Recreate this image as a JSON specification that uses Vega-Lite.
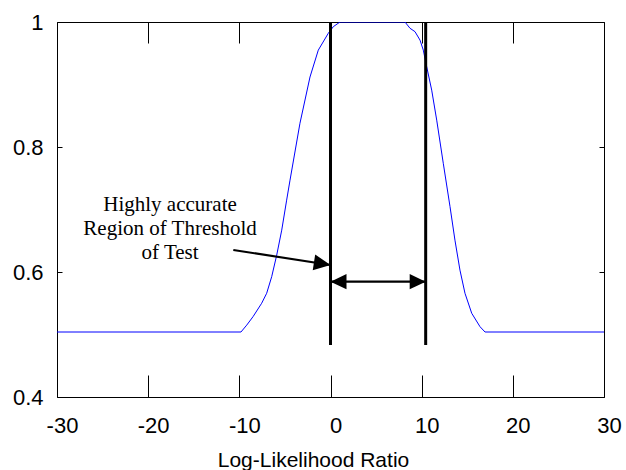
{
  "$schema": "https://vega.github.io/schema/vega-lite/v6.json",
  "width": 547,
  "height": 375,
  "autosize": {"type": "none"},
  "padding": {"left": 57, "top": 22, "right": 22, "bottom": 73},
  "background": "white",
  "config": {
    "view": {"stroke": "black", "strokeWidth": 1},
    "axis": {
      "grid": false,
      "domain": false,
      "tickColor": "black",
      "tickWidth": 1,
      "labelColor": "black",
      "labelFont": "Liberation Sans",
      "labelFontSize": 22,
      "titleFont": "Liberation Sans",
      "titleFontSize": 21,
      "titleFontWeight": "normal",
      "titleColor": "black"
    }
  },
  "datasets": {
    "curve": [
      {"x": -30, "y": 0.504}, {"x": -9.82, "y": 0.504}, {"x": -9.19, "y": 0.515},
      {"x": -8.5, "y": 0.5285}, {"x": -7.55, "y": 0.55}, {"x": -7.0, "y": 0.566},
      {"x": -6.45, "y": 0.5925}, {"x": -5.9, "y": 0.627}, {"x": -5.35, "y": 0.667},
      {"x": -4.81, "y": 0.715}, {"x": -4.44, "y": 0.747}, {"x": -3.35, "y": 0.838},
      {"x": -2.25, "y": 0.912}, {"x": -1.34, "y": 0.955}, {"x": -0.24, "y": 0.982},
      {"x": 0.02, "y": 0.987}, {"x": 0.31, "y": 0.9925}, {"x": 1.04, "y": 1.0},
      {"x": 8.17, "y": 1.0}, {"x": 8.72, "y": 0.99}, {"x": 9.27, "y": 0.9845},
      {"x": 9.82, "y": 0.971}, {"x": 10.18, "y": 0.955}, {"x": 10.55, "y": 0.9285},
      {"x": 11.1, "y": 0.891}, {"x": 11.65, "y": 0.843}, {"x": 12.37, "y": 0.774},
      {"x": 13.11, "y": 0.7045}, {"x": 13.65, "y": 0.651}, {"x": 14.2, "y": 0.603},
      {"x": 14.75, "y": 0.566}, {"x": 15.49, "y": 0.534}, {"x": 16.4, "y": 0.5125},
      {"x": 16.95, "y": 0.504}, {"x": 30, "y": 0.504}
    ],
    "vlines": [
      {"x": 0, "ylow": 0.4832, "yhigh": 1.0},
      {"x": 10.44, "ylow": 0.4832, "yhigh": 1.0}
    ],
    "arrows": [
      {"name": "span", "x1": 0, "y1": 0.5845, "x2": 10.44, "y2": 0.5845},
      {"name": "pointer", "x1": -10.66, "y1": 0.6352, "x2": 0, "y2": 0.6112}
    ],
    "labels": [
      {"text": "Highly accurate", "x": -17.6, "y": 0.6976},
      {"text": "Region of Threshold", "x": -17.6, "y": 0.6592},
      {"text": "of Test", "x": -17.6, "y": 0.6208}
    ]
  },
  "resolve": {"axis": {"x": "independent", "y": "independent"}},
  "layer": [
    {
      "data": {"name": "curve"},
      "mark": {"type": "line", "color": "#0000ff", "strokeWidth": 1, "clip": true},
      "encoding": {
        "x": {
          "field": "x", "type": "quantitative",
          "scale": {"domain": [-30, 30], "nice": false, "zero": false},
          "axis": {
            "orient": "bottom",
            "values": [-30, -20, -10, 0, 10, 20, 30],
            "labelExpr": "datum.value + ''",
            "tickSize": -22,
            "labelPadding": 40,
            "labelOffset": 5,
            "labelFlush": false,
            "title": "Log-Likelihood Ratio",
            "titleX": 256,
            "titleY": 69,
            "titleAnchor": "start",
            "titleAlign": "center",
            "titleBaseline": "alphabetic"
          }
        },
        "y": {
          "field": "y", "type": "quantitative",
          "scale": {"domain": [0.4, 1], "nice": false, "zero": false},
          "axis": {
            "orient": "left",
            "values": [0.4, 0.6, 0.8, 1],
            "labelExpr": "datum.value + ''",
            "tickSize": -5,
            "labelPadding": 19,
            "labelFlush": false,
            "title": null
          }
        }
      }
    },
    {
      "data": {"name": "vlines"},
      "mark": {"type": "rule", "color": "black", "strokeWidth": 3},
      "encoding": {
        "x": {
          "field": "x", "type": "quantitative",
          "scale": {"domain": [-30, 30], "nice": false, "zero": false},
          "axis": {
            "orient": "top",
            "values": [-30, -20, -10, 0, 10, 20, 30],
            "tickSize": -21,
            "labels": false,
            "title": null
          }
        },
        "y": {
          "field": "ylow", "type": "quantitative",
          "scale": {"domain": [0.4, 1], "nice": false, "zero": false},
          "axis": {
            "orient": "right",
            "values": [0.4, 0.6, 0.8, 1],
            "tickSize": -5,
            "labels": false,
            "title": null
          }
        },
        "y2": {"field": "yhigh"}
      }
    },
    {
      "data": {"name": "arrows"},
      "mark": {"type": "rule", "color": "black", "strokeWidth": 2.2},
      "encoding": {
        "x": {"field": "x1", "type": "quantitative", "axis": null},
        "y": {"field": "y1", "type": "quantitative", "axis": null},
        "x2": {"field": "x2"},
        "y2": {"field": "y2"}
      }
    },
    {
      "data": {"name": "arrows"},
      "transform": [{"filter": "datum.name === 'span'"}],
      "mark": {"type": "point", "shape": "M0,0L-2,-0.95L-2,0.95Z", "size": 256, "filled": true, "color": "black", "opacity": 1, "strokeWidth": 0},
      "encoding": {
        "x": {"field": "x2", "type": "quantitative", "axis": null},
        "y": {"field": "y2", "type": "quantitative", "axis": null}
      }
    },
    {
      "data": {"name": "arrows"},
      "transform": [{"filter": "datum.name === 'span'"}],
      "mark": {"type": "point", "shape": "M0,0L2,-0.95L2,0.95Z", "size": 256, "filled": true, "color": "black", "opacity": 1, "strokeWidth": 0},
      "encoding": {
        "x": {"field": "x1", "type": "quantitative", "axis": null},
        "y": {"field": "y1", "type": "quantitative", "axis": null}
      }
    },
    {
      "data": {"name": "arrows"},
      "transform": [{"filter": "datum.name === 'pointer'"}],
      "mark": {"type": "point", "shape": "M0,0L-2,-0.95L-2,0.95Z", "size": 280, "angle": 8.8, "filled": true, "color": "black", "opacity": 1, "strokeWidth": 0},
      "encoding": {
        "x": {"field": "x2", "type": "quantitative", "axis": null},
        "y": {"field": "y2", "type": "quantitative", "axis": null}
      }
    },
    {
      "data": {"name": "labels"},
      "mark": {"type": "text", "font": "Liberation Serif", "fontSize": 21, "align": "center", "baseline": "alphabetic", "color": "black"},
      "encoding": {
        "x": {"field": "x", "type": "quantitative", "axis": null},
        "y": {"field": "y", "type": "quantitative", "axis": null},
        "text": {"field": "text"}
      }
    }
  ]
}
